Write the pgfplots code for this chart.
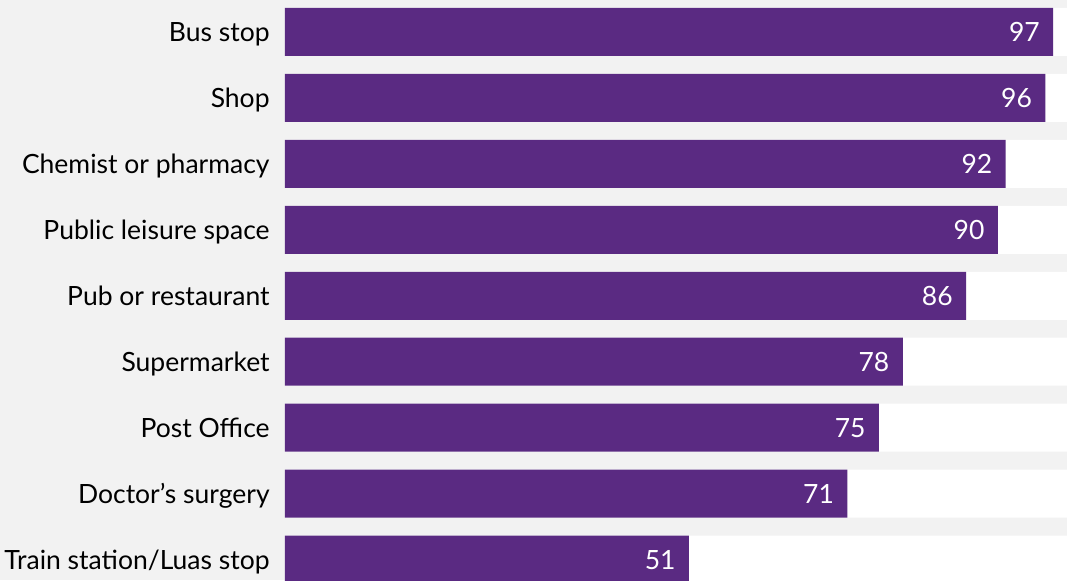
\documentclass[border=0pt]{standalone}
\usepackage{fontspec}
\setmainfont{Lato}
\usepackage{pgfplots}
\pgfplotsset{compat=1.18}
\definecolor{bg}{HTML}{F2F2F2}
\definecolor{barpurple}{HTML}{5A2A82}
\begin{document}
\begin{tikzpicture}
\useasboundingbox (0,0) rectangle (533.5pt,290pt);
\fill[bg] (0,0) rectangle (533.5pt,290pt);
\begin{axis}[
 at={(142.5pt,0pt)}, anchor=south west,
 scale only axis, width=391pt, height=290pt,
 xmin=0, xmax=98.74, ymin=-0.4848, ymax=8.31, y dir=reverse,
 xbar, bar width=24pt,
 axis line style={draw=none}, major tick length=0pt,
 xtick=\empty, ytick={0,...,8},
 yticklabels={Bus stop, Shop, Chemist or pharmacy, Public leisure space, Pub or restaurant, Supermarket, Post Office, Doctor’s surgery, Train station/Luas stop},
 yticklabel style={anchor=base east, inner sep=0pt, xshift=-7.5pt, yshift=-4.75pt, font=\fontsize{13.25}{15}\selectfont, text=black},
 /pgf/number format/assume math mode=true,
]
\addplot[fill=white, draw=none, bar shift=0pt] coordinates {(98.74,0) (98.74,1) (98.74,2) (98.74,3) (98.74,4) (98.74,5) (98.74,6) (98.74,7) (98.74,8)};
\addplot[fill=barpurple, draw=none, bar shift=0pt, nodes near coords,
  point meta=explicit symbolic,
  nodes near coords style={anchor=base east, inner sep=0pt, xshift=-6.5pt, yshift=-4.75pt, text=white, font=\fontsize{13.25}{15}\selectfont}]
  coordinates {(97,0) [97] (96,1) [96] (91,2) [92] (90,3) [90] (86,4) [86] (78,5) [78] (75,6) [75] (71,7) [71] (51,8) [51]};
\end{axis}
\end{tikzpicture}
\end{document}
